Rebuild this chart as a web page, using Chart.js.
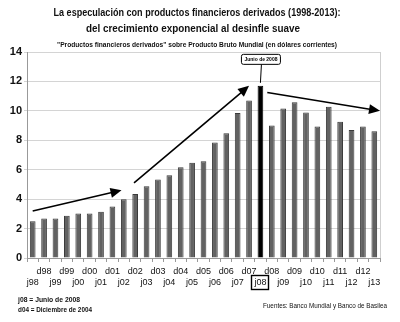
<!DOCTYPE html>
<html>
<head>
<meta charset="utf-8">
<script src="https://cdn.jsdelivr.net/npm/chart.js@4.4.1/dist/chart.umd.min.js"></script>
<style>
  html, body { margin: 0; padding: 0; background: #fff; }
  #contenedor { width: 400px; height: 322px; }
</style>
</head>
<body>
<div id="contenedor"><canvas id="grafico" width="400" height="322"></canvas></div>
<script>
// Datos (PBI mundial, veces)
const periodos = ['j98','d98','j99','d99','j00','d00','j01','d01','j02','d02','j03','d03','j04','d04','j05','d05',
  'j06','d06','j07','d07','j08','d08','j09','d09','j10','d10','j11','d11','j12','d12','j13'];
const valores = [2.5, 2.69, 2.69, 2.87, 3.03, 3.03, 3.15, 3.5, 4.0, 4.35, 4.88, 5.33, 5.63, 6.16, 6.48, 6.58,
  7.85, 8.47, 9.86, 10.7, 11.7, 9.0, 10.16, 10.58, 9.88, 8.93, 10.28, 9.26, 8.7, 8.93, 8.61];
const ticksY = [0, 2, 4, 6, 8, 10, 12, 14];
const destacado = 'j08';

// Flechas en coordenadas de datos: [indiceDesde, valorDesde, indiceHasta, valorHasta]
const flechas = [
  [0, 3.2, 7.8, 4.6],
  [8.9, 5.1, 19.0, 11.7],
  [20.6, 11.25, 30.5, 10.0]
];

const fuente = "'Liberation Sans', Arial, sans-serif";

// Etiquetas en dos filas: d arriba, j abajo
const etiquetas = periodos.map(p => p.charAt(0) === 'd' ? [p, ''] : ['', p]);
const colores = periodos.map(p => p === destacado ? '#000' : '#626262');
const bordes = periodos.map(p => p === destacado ? '#000' : '#3a3a3a');

function dibujarFlecha(ctx, x1, y1, x2, y2) {
  const ang = Math.atan2(y2 - y1, x2 - x1);
  const largo = 11, ancho = 5;
  ctx.beginPath();
  ctx.moveTo(x1, y1);
  ctx.lineTo(x2 - Math.cos(ang) * largo * 0.8, y2 - Math.sin(ang) * largo * 0.8);
  ctx.stroke();
  ctx.beginPath();
  ctx.moveTo(x2, y2);
  ctx.lineTo(x2 - Math.cos(ang) * largo + Math.sin(ang) * ancho, y2 - Math.sin(ang) * largo - Math.cos(ang) * ancho);
  ctx.lineTo(x2 - Math.cos(ang) * largo - Math.sin(ang) * ancho, y2 - Math.sin(ang) * largo + Math.cos(ang) * ancho);
  ctx.closePath();
  ctx.fill();
}

const extras = {
  id: 'extras',
  afterDraw(chart) {
    const ctx = chart.ctx;
    const xs = chart.scales.x, ys = chart.scales.y;
    const area = chart.chartArea;
    ctx.save();

    // borde derecho
    ctx.strokeStyle = '#cfcfcf';
    ctx.lineWidth = 1;
    ctx.beginPath();
    ctx.moveTo(area.right + 0.5, area.top);
    ctx.lineTo(area.right + 0.5, area.bottom);
    ctx.stroke();

    // titulos (comprimidos a lo ancho como en el original)
    ctx.fillStyle = '#111';
    ctx.textAlign = 'center';
    ctx.textBaseline = 'middle';
    ctx.font = 'bold 11px ' + fuente;
    ctx.fillText('La especulación con productos financieros derivados (1998-2013):', 197, 13, 287);
    ctx.fillText('del crecimiento exponencial al desinfle suave', 193, 29, 214);
    ctx.font = 'bold 7px ' + fuente;
    ctx.fillText('"Productos financieros derivados" sobre Producto Bruto Mundial (en dólares corrientes)', 197, 45, 280);

    // notas
    ctx.textAlign = 'left';
    ctx.font = 'bold 7px ' + fuente;
    ctx.fillText('j08 = Junio de 2008', 18, 300, 62);
    ctx.fillText('d04 = Diciembre de 2004', 18, 310, 74);
    ctx.font = '7px ' + fuente;
    ctx.fillText('Fuentes: Banco Mundial y Banco de Basilea', 263, 306, 124);

    // flechas
    ctx.strokeStyle = '#000';
    ctx.fillStyle = '#000';
    ctx.lineWidth = 1.6;
    flechas.forEach(f => {
      dibujarFlecha(ctx, xs.getPixelForValue(f[0]), ys.getPixelForValue(f[1]),
        xs.getPixelForValue(f[2]), ys.getPixelForValue(f[3]));
    });

    // recuadro "Junio de 2008"
    const idx = periodos.indexOf(destacado);
    const xc = xs.getPixelForValue(idx);
    const yb = ys.getPixelForValue(13.5);
    ctx.lineWidth = 1;
    ctx.beginPath();
    ctx.moveTo(xc + 1, yb + 5);
    ctx.lineTo(xc, ys.getPixelForValue(valores[idx]) - 3);
    ctx.stroke();
    ctx.fillStyle = '#fff';
    ctx.beginPath();
    ctx.roundRect(xc - 19, yb - 5, 39, 10, 2);
    ctx.fill();
    ctx.stroke();
    ctx.fillStyle = '#000';
    ctx.textAlign = 'center';
    ctx.font = 'bold 6px ' + fuente;
    ctx.fillText('Junio de 2008', xc + 0.5, yb, 33);

    // recuadro en la etiqueta j08
    ctx.lineWidth = 1.4;
    ctx.strokeRect(Math.round(xc) - 8.5, 275.5, 17, 14);
    ctx.restore();
  }
};

new Chart(document.getElementById('grafico'), {
  type: 'bar',
  data: {
    labels: etiquetas,
    datasets: [{
      data: valores,
      backgroundColor: colores,
      borderColor: bordes,
      borderWidth: 1,
      barPercentage: 0.5,
      categoryPercentage: 1
    }]
  },
  options: {
    responsive: false,
    animation: false,
    layout: { padding: { top: 52, right: 20, bottom: 0, left: 0 } },
    plugins: { legend: { display: false }, tooltip: { enabled: false } },
    scales: {
      x: {
        afterFit: s => { s.height = 64; },
        grid: { offset: true, drawOnChartArea: false, tickLength: 4, color: '#999' },
        border: { color: '#999' },
        ticks: {
          autoSkip: false, maxRotation: 0, padding: 4, color: '#111',
          font: { family: fuente, size: 9 }, lineHeight: 1.3
        }
      },
      y: {
        min: 0, max: 14,
        afterFit: s => { s.width = 27; },
        afterBuildTicks: s => { s.ticks = ticksY.map(v => ({ value: v })); },
        grid: { color: '#d4d4d4', tickLength: 3 },
        border: { color: '#999' },
        ticks: { color: '#111', padding: 2, font: { family: fuente, size: 11, weight: 'bold' } }
      }
    }
  },
  plugins: [extras]
});
</script>
</body>
</html>
